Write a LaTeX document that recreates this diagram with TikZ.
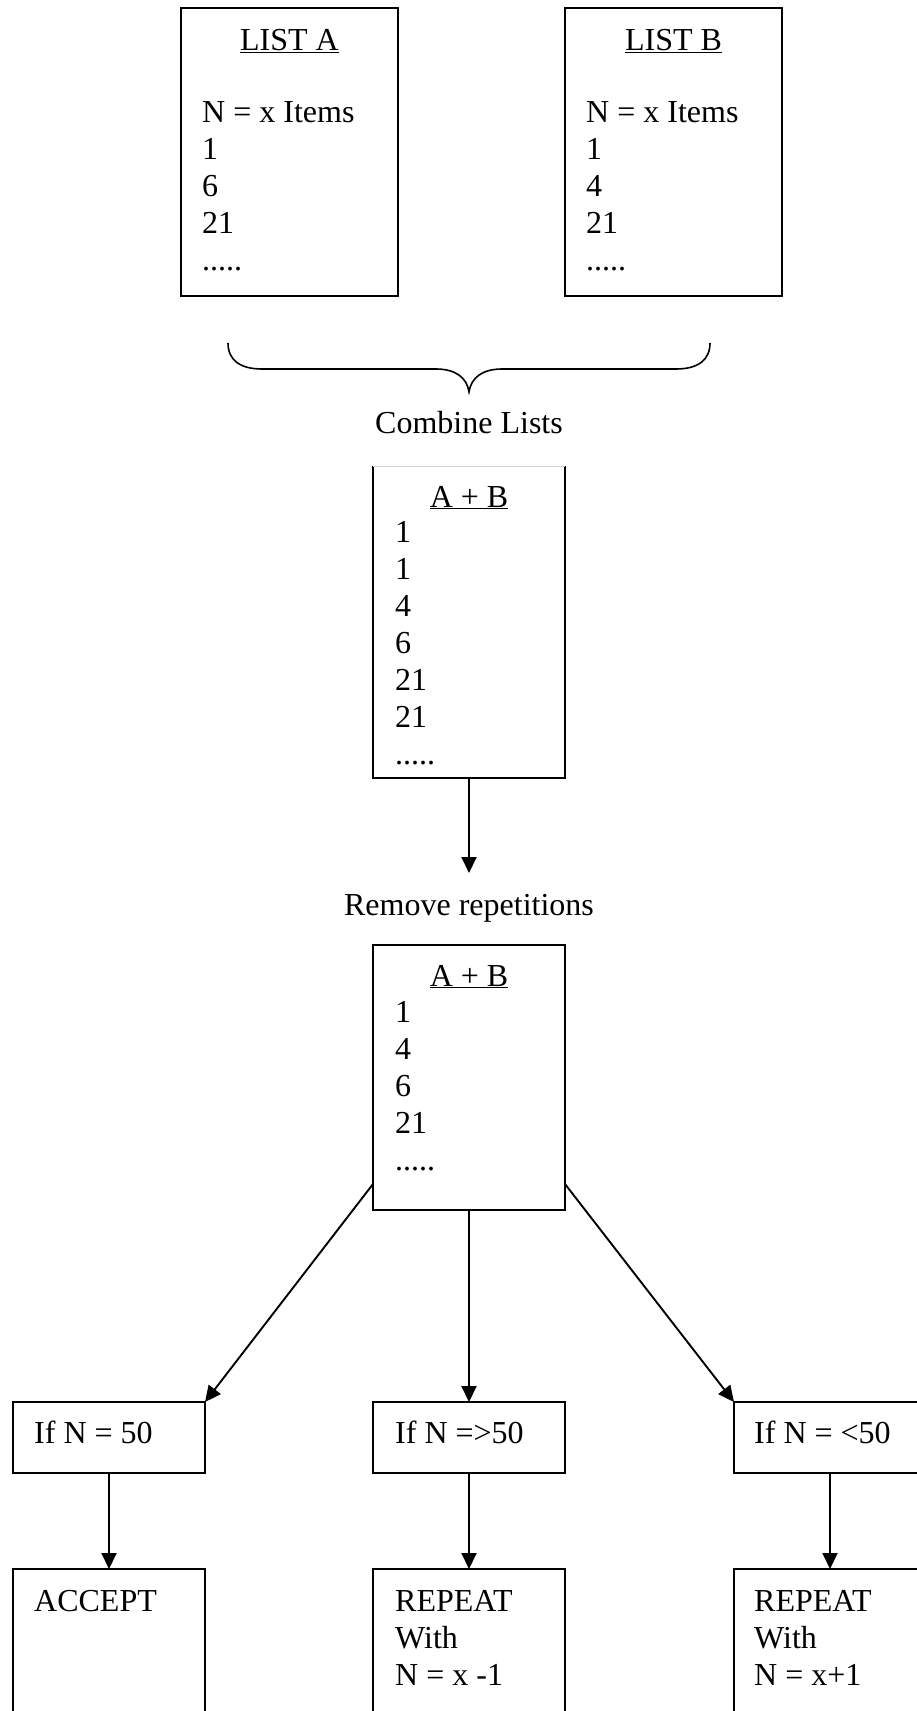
\documentclass[tikz,border=0pt]{standalone}
\usepackage{fontspec}
\setmainfont{Liberation Serif}
\usetikzlibrary{arrows.meta,calc}
% left-aligned column of lines; its baseline is the first line's baseline
\newcommand\rows[1]{\vtop{\baselineskip=37pt\lineskiplimit=-100pt\halign{##\hfil\cr#1\crcr}}}

\begin{document}
\begin{tikzpicture}[x=1pt,y=-1pt,
  every node/.style={font=\fontsize{32}{37}\selectfont},
  box/.style={draw, line width=1.8pt, inner sep=0pt, outer sep=0pt},
  bare/.style={inner sep=0pt, outer sep=0pt},
  txt/.style={inner sep=0pt, anchor=base west},
  ttl/.style={inner sep=0pt, anchor=base},
  link/.style={line width=1.9pt, -{Triangle[length=16pt,width=15pt]}}]

\useasboundingbox (0,0) rectangle (917,1711);
\fill[white] (0,0) rectangle (917,1711);

% the two input lists
\node[box, minimum width=217pt, minimum height=288pt] (la) at (289.5,152) {};
\node[ttl] (laT) at (289.5,50) {\underline{LIST A}};
\node[txt] (laL) at (202,122) {\rows{N = x Items\cr 1\cr 6\cr 21\cr .....}};

\node[box, minimum width=217pt, minimum height=288pt] (lb) at (673.5,152) {};
\node[ttl] (lbT) at (673.5,50) {\underline{LIST B}};
\node[txt] (lbL) at (586,122) {\rows{N = x Items\cr 1\cr 4\cr 21\cr .....}};

% brace joining the lists
\draw[line width=1.6pt] (228,343) .. controls (228,360) and (240,369) .. (262,369)
  -- (436,369) .. controls (456,369) and (467,378) .. (469,392)
  .. controls (471,378) and (482,369) .. (502,369)
  -- (676,369) .. controls (698,369) and (710,360) .. (710,343);
\node[ttl] (comb) at (469,433) {Combine Lists};

% combined list
\node[bare, minimum width=192pt, minimum height=312pt] (ab1) at (469,622) {};
\draw[line width=1.8pt] (ab1.north west) -- (ab1.south west) -- (ab1.south east) -- (ab1.north east);
\draw[gray!35, line width=0.8pt] (ab1.north west) -- (ab1.north east);
\node[ttl] (ab1T) at (469,507) {\underline{A + B}};
\node[txt] (ab1L) at (395,542) {\rows{1\cr 1\cr 4\cr 6\cr 21\cr 21\cr .....}};

\coordinate (remTop) at (469,873);
\draw[link] (ab1.south) -- (remTop);
\node[ttl] (rem) at (469,915) {Remove repetitions};

% list without repetitions
\node[box, minimum width=192pt, minimum height=265pt] (ab2) at (469,1077.5) {};
\node[ttl] (ab2T) at (469,986) {\underline{A + B}};
\node[txt] (ab2L) at (395,1022) {\rows{1\cr 4\cr 6\cr 21\cr .....}};

% tests on N
\node[box, minimum width=192pt, minimum height=71pt] (c1) at (109,1437.5) {};
\node[txt] (c1L) at (34,1443) {If N = 50};
\node[box, minimum width=192pt, minimum height=71pt] (c2) at (469,1437.5) {};
\node[txt] (c2L) at (395,1443) {If N =>50};
\node[box, minimum width=192pt, minimum height=71pt] (c3) at (830,1437.5) {};
\node[txt] (c3L) at (754,1443) {If N = <50};

\draw[link] ($(ab2.south west)+(0,-26)$) -- (c1.north east);
\draw[link] (ab2.south) -- (c2.north);
\draw[link] ($(ab2.south east)+(0,-26)$) -- (c3.north west);

% outcomes
\node[box, minimum width=192pt, minimum height=200pt] (r1) at (109,1669) {};
\node[txt] (r1L) at (34,1611) {ACCEPT};
\node[box, minimum width=192pt, minimum height=200pt] (r2) at (469,1669) {};
\node[txt] (r2L) at (395,1611) {\rows{REPEAT\cr With\cr N = x -1}};
\node[box, minimum width=192pt, minimum height=200pt] (r3) at (830,1669) {};
\node[txt] (r3L) at (754,1611) {\rows{REPEAT\cr With\cr N = x+1}};

\draw[link] (c1.south) -- (r1.north);
\draw[link] (c2.south) -- (r2.north);
\draw[link] (c3.south) -- (r3.north);
\end{tikzpicture}
\end{document}
